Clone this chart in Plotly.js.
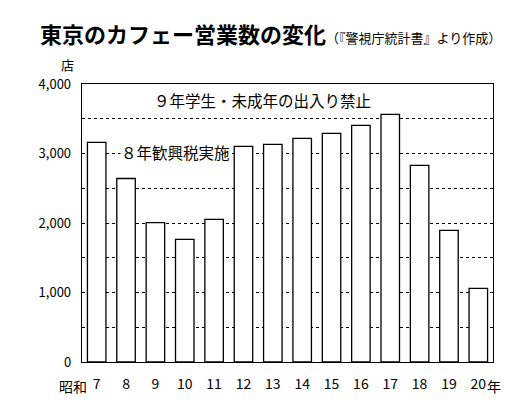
<!DOCTYPE html>
<html><head><meta charset="utf-8">
<script src="https://cdn.plot.ly/plotly-3.0.1.min.js"></script>
<style>body{margin:0;background:#fff}#c{width:530px;height:419px}</style>
</head><body><div id="c"></div>
<script>
var categories = ['7','8','9','10','11','12','13','14','15','16','17','18','19','20'];
var shopCounts = [3160, 2640, 2005, 1765, 2053, 3103, 3132, 3218, 3290, 3405, 3564, 2830, 1895, 1060];
var yTickVals = [0,500,1000,1500,2000,2500,3000,3500,4000];
var yTickText = ['0','','1,000','','2,000','','3,000','','4,000'];
var F = '"Noto Sans CJK JP", "Noto Sans", sans-serif';
var n = categories.length;

var trace = {
  type:'bar', x: categories, y: shopCounts,
  marker:{color:'#fff', line:{color:'#000', width:1.3}},
  hoverinfo:'none'
};
var layout = {
  width:530, height:419,
  margin:{l:82, r:37, t:84, b:57},
  paper_bgcolor:'#fff', plot_bgcolor:'#fff',
  bargap:0.37,
  showlegend:false,
  font:{family:F, color:'#000'},
  title:{text:'<b>東京のカフェー営業数の変化</b><span style="font-size:13px;font-weight:normal">（『警視庁統計書』より作成）</span>',
    font:{family:F, size:22, color:'#000'}, x:40/530, xanchor:'left', xref:'container',
    y:1-35/419, yanchor:'middle', yref:'container'},
  xaxis:{type:'category', range:[-0.5, n-0.5], autorange:false, showgrid:false, showline:true, mirror:true,
    linecolor:'#000', linewidth:1.3, ticks:'', tickfont:{family:F, size:14, color:'#000'}, ticklabelstandoff:9},
  yaxis:{range:[0,4000], autorange:false, tickvals:yTickVals, ticktext:yTickText, showgrid:true, gridcolor:'#000',
    griddash:'dot', gridwidth:1, showline:true, mirror:true, linecolor:'#000', linewidth:1.3,
    zeroline:false, ticks:'', tickfont:{family:F, size:13, color:'#000'}, ticklabelstandoff:7},
  annotations:[
    {text:'９年学生・未成年の出入り禁止', xref:'paper', yref:'y', x:(262-82)/411, y:3770,
     showarrow:false, font:{family:F, size:15.5, color:'#000'}, bgcolor:'#fff', xanchor:'center'},
    {text:'８年歓興税実施', xref:'paper', yref:'y', x:(175-82)/411, y:3020,
     showarrow:false, font:{family:F, size:15.5, color:'#000'}, bgcolor:'#fff', xanchor:'center', borderpad:0},
    {text:'店', xref:'paper', yref:'paper', x:(67-82)/411, y:1+(84-64)/278, showarrow:false, borderpad:0,
     font:{family:F, size:13, color:'#000'}, xanchor:'center', yanchor:'middle'},
    {text:'昭和', xref:'paper', yref:'paper', x:0.5/n, y:-(386-362)/278, xshift:-8, showarrow:false,
     font:{family:F, size:14, color:'#000'}, xanchor:'right', yanchor:'middle'},
    {text:'年', xref:'paper', yref:'paper', x:(n-0.5)/n, y:-(386-362)/278, xshift:7, showarrow:false,
     font:{family:F, size:14, color:'#000'}, xanchor:'left', yanchor:'middle'}
  ]
};
Plotly.newPlot('c',[trace],layout,{staticPlot:true});
</script></body></html>
